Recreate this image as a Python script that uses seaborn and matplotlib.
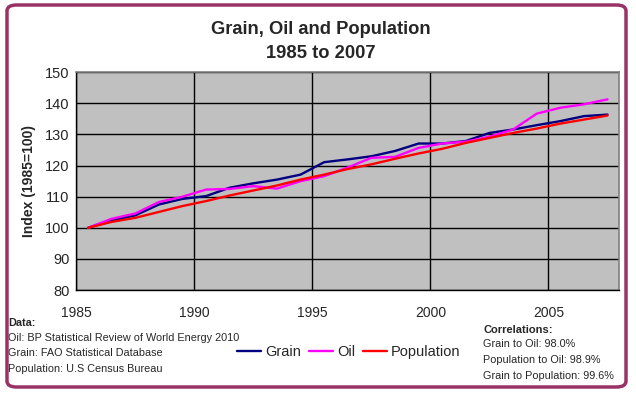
import numpy as np
import pandas as pd
import seaborn as sns
import matplotlib
matplotlib.use("Agg")
import matplotlib.pyplot as plt
from matplotlib.patches import FancyBboxPatch
from matplotlib.lines import Line2D

years = list(range(1985, 2008))
grain = [100.0, 102.4, 104.0, 107.5, 109.3, 110.2, 112.9, 114.3, 115.5, 117.1, 121.1, 122.0,
         123.0, 124.7, 127.1, 127.1, 127.9, 130.5, 131.6, 133.0, 134.3, 135.9, 136.4]
oil = [100.0, 102.9, 104.6, 108.3, 110.0, 112.3, 112.5, 113.4, 112.6, 115.0, 116.6, 119.4,
       122.5, 122.8, 125.7, 127.1, 127.7, 129.3, 131.6, 136.7, 138.6, 139.7, 141.3]
population = [100.0, 101.9, 103.2, 105.1, 107.0, 108.6, 110.4, 112.0, 113.6, 115.5, 117.1, 118.9,
              120.4, 122.2, 123.9, 125.4, 127.3, 128.9, 130.5, 131.9, 133.5, 134.8, 136.1]
series_names = ["Grain", "Oil", "Population"]
colors = ["#000080", "#FF00FF", "#FF0000"]
x_ticks = [1985, 1990, 1995, 2000, 2005]
y_ticks = [80, 90, 100, 110, 120, 130, 140, 150]

df = pd.DataFrame({"Year": years, "Grain": grain, "Oil": oil, "Population": population})
long = df.melt(id_vars="Year", var_name="Series", value_name="Index")
# points are drawn at mid-year, as in the original date axis
long["X"] = long["Year"] + 0.5

sns.set_style("white")
plt.rcParams["font.family"] = ["Liberation Sans", "DejaVu Sans"]

W, H = 636, 395
fig = plt.figure(figsize=(W / 100, H / 100), dpi=100)
fig.patch.set_facecolor("white")

left, right, top, bottom = 76.3, 619.3, 72.3, 290.0
ax = fig.add_axes([left / W, 1 - bottom / H, (right - left) / W, (bottom - top) / H])
ax.set_facecolor("#C0C0C0")

sns.lineplot(data=long, x="X", y="Index", hue="Series", hue_order=series_names,
             palette=colors, linewidth=1.7, legend=False, ax=ax, zorder=3)

ax.set_xlim(1985, 2008)
ax.set_ylim(80, 150)
ax.set_xticks(x_ticks)
ax.set_yticks(y_ticks)
ax.set_xticklabels([str(t) for t in x_ticks], fontsize=10)
ax.set_yticklabels([str(t) for t in y_ticks], fontsize=10.5)
ax.grid(True, color="black", linewidth=1.0, zorder=0)
ax.set_axisbelow(True)
ax.tick_params(axis="y", direction="out", length=3.5, width=1, color="black", pad=1.5)
ax.tick_params(axis="x", direction="out", length=3.5, width=1, color="black", pad=8)
for s in ["left", "bottom"]:
    ax.spines[s].set_color("black")
    ax.spines[s].set_linewidth(1.0)
for s in ["top", "right"]:
    ax.spines[s].set_color("#808080")
    ax.spines[s].set_linewidth(1.2)
ax.set_xlabel("")
ax.set_ylabel("Index (1985=100)", fontsize=10, fontweight="bold", labelpad=6)

fig.text(321 / W, 1 - 30 / H, "Grain, Oil and Population", ha="center", va="center",
         fontsize=13.2, fontweight="bold")
fig.text(321 / W, 1 - 53 / H, "1985 to 2007", ha="center", va="center",
         fontsize=13.2, fontweight="bold")

handles = [Line2D([0], [0], color=c, lw=1.7) for c in colors]
fig.legend(handles, series_names, loc="center", bbox_to_anchor=(349 / W, 1 - 352 / H),
           ncol=3, frameon=False, fontsize=10.5, handlelength=1.65, handletextpad=0.3,
           columnspacing=0.5, borderpad=0, borderaxespad=0)

fig.text(8 / W, 1 - 323 / H, "Data:", fontsize=7.8, fontweight="bold", va="center")
for i, t in enumerate(["Oil: BP Statistical Review of World Energy 2010",
                       "Grain: FAO Statistical Database",
                       "Population: U.S Census Bureau"]):
    fig.text(8 / W, 1 - (338 + 15.3 * i) / H, t, fontsize=7.8, va="center")

fig.text(483 / W, 1 - 330 / H, "Correlations:", fontsize=8, fontweight="bold", va="center")
for i, t in enumerate(["Grain to Oil: 98.0%", "Population to Oil: 98.9%",
                       "Grain to Population: 99.6%"]):
    fig.text(483 / W, 1 - (344 + 16 * i) / H, t, fontsize=7.8, va="center")

border = FancyBboxPatch((7 / W, 1 - 387 / H), 619 / W, 382 / H,
                        boxstyle="round,pad=0,rounding_size=0.015",
                        transform=fig.transFigure, facecolor="none",
                        edgecolor="#993366", linewidth=2.5, zorder=10)
fig.patches.append(border)

fig.savefig("out.png", dpi=100, facecolor="white")
